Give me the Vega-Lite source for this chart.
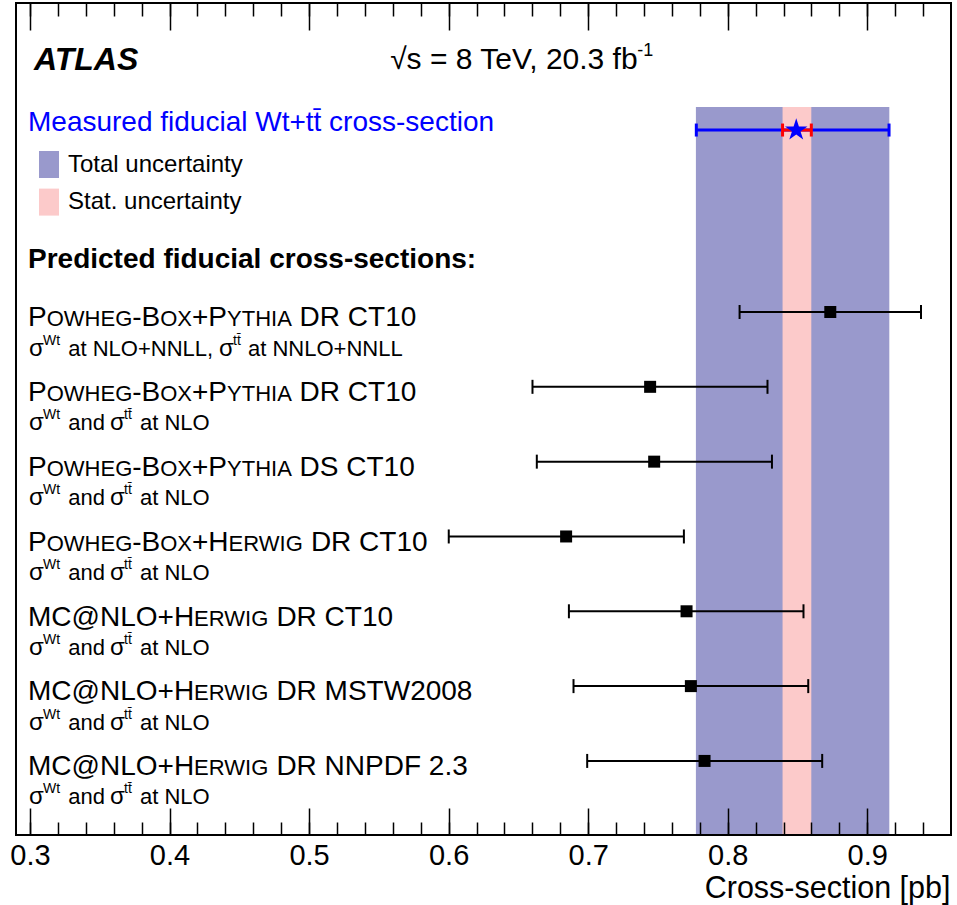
{
  "$schema": "https://vega.github.io/schema/vega-lite/v6.json",
  "width": 935,
  "height": 832,
  "autosize": {"type": "none"},
  "padding": {"left": 16, "top": 3, "right": 6, "bottom": 70},
  "background": "white",
  "config": {
    "font": "Liberation Sans",
    "view": {"stroke": "#000", "strokeWidth": 2},
    "text": {"align": "left", "baseline": "alphabetic", "color": "#000"}
  },
  "datasets": {
    "bands": [
      {"band": "Total uncertainty", "lo": 0.7772, "hi": 0.9158, "top": 1.26, "bottom": 10.978},
      {"band": "Stat. uncertainty", "lo": 0.8393, "hi": 0.8599, "top": 1.26, "bottom": 10.978}
    ],
    "measured": [
      {"pos": 1.568, "val": 0.8491, "lo": 0.7775, "hi": 0.9156, "slo": 0.8393, "shi": 0.8599}
    ],
    "models": [
      {"pos": 4, "lo": 0.8085, "val": 0.8735, "hi": 0.9385, "gen": "pythia", "tail": "DR CT10", "sub": "nnll"},
      {"pos": 5, "lo": 0.6601, "val": 0.7444, "hi": 0.8285, "gen": "pythia", "tail": "DR CT10", "sub": "nlo"},
      {"pos": 6, "lo": 0.6632, "val": 0.7473, "hi": 0.8317, "gen": "pythia", "tail": "DS CT10", "sub": "nlo"},
      {"pos": 7, "lo": 0.6001, "val": 0.6842, "hi": 0.7686, "gen": "herwig", "tail": "DR CT10", "sub": "nlo"},
      {"pos": 8, "lo": 0.6862, "val": 0.7705, "hi": 0.8543, "gen": "mcnlo", "tail": "DR CT10", "sub": "nlo"},
      {"pos": 9, "lo": 0.6895, "val": 0.7736, "hi": 0.8577, "gen": "mcnlo", "tail": "DR MSTW2008", "sub": "nlo"},
      {"pos": 10, "lo": 0.6993, "val": 0.7834, "hi": 0.8677, "gen": "mcnlo", "tail": "DR NNPDF 2.3", "sub": "nlo"}
    ],
    "notes": [
      {"key": "atlas", "text": "ATLAS"},
      {"key": "energy", "text": "√s = 8 TeV, 20.3 fb"},
      {"key": "lumi", "text": "-1"},
      {"key": "measured", "text": "Measured fiducial Wt+tt̄ cross-section"},
      {"key": "predicted", "text": "Predicted fiducial cross-sections:"}
    ]
  },
  "resolve": {"axis": {"x": "independent"}},
  "layer": [
    {
      "data": {"name": "bands"},
      "mark": {"type": "rect"},
      "encoding": {
        "x": {
          "field": "lo", "type": "quantitative",
          "scale": {"domain": [0.29, 0.96], "nice": false, "zero": false},
          "axis": {
            "orient": "bottom", "values": [0.3, 0.4, 0.5, 0.6, 0.7, 0.8, 0.9], "format": ".1f",
            "ticks": false, "domain": false, "grid": false, "labelOverlap": false, "labelFlush": false,
            "labelFontSize": 29, "labelColor": "#000", "labelPadding": 29, "labelBaseline": "alphabetic",
            "title": "Cross-section [pb]", "titleFontSize": 30.5, "titleFontWeight": "normal", "titleColor": "#000",
            "titleX": 934, "titleY": 62, "titleAlign": "right", "titleBaseline": "alphabetic", "titleLimit": 0
          }
        },
        "x2": {"field": "hi"},
        "y": {
          "field": "top", "type": "quantitative",
          "scale": {"domain": [-0.13, 10.99], "nice": false, "zero": false, "reverse": true},
          "axis": null
        },
        "y2": {"field": "bottom"},
        "color": {
          "field": "band", "type": "nominal",
          "scale": {"domain": ["Total uncertainty", "Stat. uncertainty"], "range": ["#9999cc", "#fccaca"]},
          "legend": {
            "orient": "none", "legendX": 19.5, "legendY": 148, "title": null, "padding": 0,
            "symbolType": "M-0.74,-1H0.74V1H-0.74Z", "symbolSize": 729, "symbolStrokeWidth": 0, "symbolOpacity": 1,
            "labelFont": "Liberation Sans", "labelFontSize": 24, "labelColor": "#000", "labelOffset": 5.5,
            "labelLimit": 0, "rowPadding": 10.6
          }
        }
      }
    },
    {
      "data": {"name": "models"},
      "mark": {"type": "rule", "color": "#000", "strokeWidth": 2},
      "encoding": {
        "x": {
          "field": "lo", "type": "quantitative",
          "axis": {"orient": "bottom", "values": [0.3, 0.4, 0.5, 0.6, 0.7, 0.8, 0.9], "labels": false, "domain": false, "grid": false, "title": null, "tickSize": -27, "tickColor": "#000", "tickWidth": 1.5, "zindex": 1}
        },
        "x2": {"field": "hi"},
        "y": {"field": "pos", "type": "quantitative", "axis": null}
      }
    },
    {
      "data": {"name": "models"},
      "mark": {"type": "tick", "orient": "vertical", "color": "#000", "size": 14, "thickness": 2, "opacity": 1},
      "encoding": {
        "x": {
          "field": "lo", "type": "quantitative",
          "axis": {"orient": "bottom", "values": [0.3, 0.32, 0.34, 0.36, 0.38, 0.4, 0.42, 0.44, 0.46, 0.48, 0.5, 0.52, 0.54, 0.56, 0.58, 0.6, 0.62, 0.64, 0.66, 0.68, 0.7, 0.72, 0.74, 0.76, 0.78, 0.8, 0.82, 0.84, 0.86, 0.88, 0.9, 0.92, 0.94], "labels": false, "domain": false, "grid": false, "title": null, "tickSize": -13, "tickColor": "#000", "tickWidth": 1.5, "zindex": 1}
        },
        "y": {"field": "pos", "type": "quantitative", "axis": null}
      }
    },
    {
      "data": {"name": "models"},
      "mark": {"type": "tick", "orient": "vertical", "color": "#000", "size": 14, "thickness": 2, "opacity": 1},
      "encoding": {
        "x": {
          "field": "hi", "type": "quantitative",
          "axis": {"orient": "top", "values": [0.3, 0.4, 0.5, 0.6, 0.7, 0.8, 0.9], "labels": false, "domain": false, "grid": false, "title": null, "tickSize": -27, "tickColor": "#000", "tickWidth": 1.5, "zindex": 1}
        },
        "y": {"field": "pos", "type": "quantitative", "axis": null}
      }
    },
    {
      "data": {"name": "models"},
      "mark": {"type": "point", "shape": "square", "filled": true, "size": 144, "color": "#000", "opacity": 1},
      "encoding": {
        "x": {
          "field": "val", "type": "quantitative",
          "axis": {"orient": "top", "values": [0.3, 0.32, 0.34, 0.36, 0.38, 0.4, 0.42, 0.44, 0.46, 0.48, 0.5, 0.52, 0.54, 0.56, 0.58, 0.6, 0.62, 0.64, 0.66, 0.68, 0.7, 0.72, 0.74, 0.76, 0.78, 0.8, 0.82, 0.84, 0.86, 0.88, 0.9, 0.92, 0.94], "labels": false, "domain": false, "grid": false, "title": null, "tickSize": -13, "tickColor": "#000", "tickWidth": 1.5, "zindex": 1}
        },
        "y": {"field": "pos", "type": "quantitative", "axis": null}
      }
    },
    {
      "data": {"name": "measured"},
      "encoding": {"y": {"field": "pos", "type": "quantitative", "axis": null}},
      "layer": [
        {
          "mark": {"type": "rule", "color": "#0000ff", "strokeWidth": 3},
          "encoding": {"x": {"field": "lo", "type": "quantitative", "axis": null}, "x2": {"field": "hi"}}
        },
        {
          "mark": {"type": "tick", "orient": "vertical", "color": "#0000ff", "size": 13, "thickness": 3, "opacity": 1},
          "encoding": {"x": {"field": "lo", "type": "quantitative", "axis": null}}
        },
        {
          "mark": {"type": "tick", "orient": "vertical", "color": "#0000ff", "size": 13, "thickness": 3, "opacity": 1},
          "encoding": {"x": {"field": "hi", "type": "quantitative", "axis": null}}
        },
        {
          "mark": {"type": "rule", "color": "#ff0000", "strokeWidth": 3},
          "encoding": {"x": {"field": "slo", "type": "quantitative", "axis": null}, "x2": {"field": "shi"}}
        },
        {
          "mark": {"type": "tick", "orient": "vertical", "color": "#ff0000", "size": 13, "thickness": 3, "opacity": 1},
          "encoding": {"x": {"field": "slo", "type": "quantitative", "axis": null}}
        },
        {
          "mark": {"type": "tick", "orient": "vertical", "color": "#ff0000", "size": 13, "thickness": 3, "opacity": 1},
          "encoding": {"x": {"field": "shi", "type": "quantitative", "axis": null}}
        },
        {
          "mark": {"type": "point", "filled": true, "color": "#0000ff", "opacity": 1, "size": 560, "strokeWidth": 0,
            "shape": "M0,-1L0.225,-0.309L0.951,-0.309L0.363,0.118L0.588,0.809L0,0.382L-0.588,0.809L-0.363,0.118L-0.951,-0.309L-0.225,-0.309Z"},
          "encoding": {"x": {"field": "val", "type": "quantitative", "axis": null}}
        }
      ]
    },
    {
      "data": {"name": "notes"},
      "layer": [
        {
          "transform": [{"filter": "datum.key === 'atlas'"}],
          "mark": {"type": "text", "fontSize": 32, "fontWeight": "bold", "fontStyle": "italic"},
          "encoding": {
            "x": {"datum": 0.3029, "type": "quantitative", "axis": null},
            "y": {"datum": 0.766, "type": "quantitative", "axis": null},
            "text": {"field": "text"}
          }
        },
        {
          "transform": [{"filter": "datum.key === 'energy'"}],
          "mark": {"type": "text", "fontSize": 30},
          "encoding": {
            "x": {"datum": 0.5581, "type": "quantitative", "axis": null},
            "y": {"datum": 0.752, "type": "quantitative", "axis": null},
            "text": {"field": "text"}
          }
        },
        {
          "transform": [{"filter": "datum.key === 'lumi'"}],
          "mark": {"type": "text", "fontSize": 18},
          "encoding": {
            "x": {"datum": 0.7352, "type": "quantitative", "axis": null},
            "y": {"datum": 0.578, "type": "quantitative", "axis": null},
            "text": {"field": "text"}
          }
        },
        {
          "transform": [{"filter": "datum.key === 'measured'"}],
          "mark": {"type": "text", "fontSize": 28, "color": "#0000ff"},
          "encoding": {
            "x": {"datum": 0.2986, "type": "quantitative", "axis": null},
            "y": {"datum": 1.575, "type": "quantitative", "axis": null},
            "text": {"field": "text"}
          }
        },
        {
          "transform": [{"filter": "datum.key === 'predicted'"}],
          "mark": {"type": "text", "fontSize": 28, "fontWeight": "bold"},
          "encoding": {
            "x": {"datum": 0.2986, "type": "quantitative", "axis": null},
            "y": {"datum": 3.413, "type": "quantitative", "axis": null},
            "text": {"field": "text"}
          }
        }
      ]
    },
    {
      "data": {"name": "models"},
      "encoding": {
        "x": {"datum": 0.2986, "type": "quantitative", "axis": null},
        "y": {"field": "pos", "type": "quantitative", "axis": null}
      },
      "layer": [
        {"transform": [{"filter": "datum.gen !== 'mcnlo'"}], "mark": {"type": "text", "text": "P", "fontSize": 28, "dy": 14.3}},
        {"transform": [{"filter": "datum.gen !== 'mcnlo'"}], "mark": {"type": "text", "text": "OWHEG", "fontSize": 22, "dx": 18.7, "dy": 14.3}},
        {"transform": [{"filter": "datum.gen !== 'mcnlo'"}], "mark": {"type": "text", "text": "-B", "fontSize": 28, "dx": 104.2, "dy": 14.3}},
        {"transform": [{"filter": "datum.gen !== 'mcnlo'"}], "mark": {"type": "text", "text": "OX", "fontSize": 22, "dx": 132.2, "dy": 14.3}},
        {"transform": [{"filter": "datum.gen === 'pythia'"}], "mark": {"type": "text", "text": "+P", "fontSize": 28, "dx": 164, "dy": 14.3}},
        {"transform": [{"filter": "datum.gen === 'pythia'"}], "mark": {"type": "text", "text": "YTHIA", "fontSize": 22, "dx": 199.1, "dy": 14.3}},
        {"transform": [{"filter": "datum.gen === 'pythia'"}], "mark": {"type": "text", "fontSize": 28, "dx": 271.6, "dy": 14.3}, "encoding": {"text": {"field": "tail"}}},
        {"transform": [{"filter": "datum.gen === 'herwig'"}], "mark": {"type": "text", "text": "+H", "fontSize": 28, "dx": 164, "dy": 14.3}},
        {"transform": [{"filter": "datum.gen === 'herwig'"}], "mark": {"type": "text", "text": "ERWIG", "fontSize": 22, "dx": 200.6, "dy": 14.3}},
        {"transform": [{"filter": "datum.gen === 'herwig'"}], "mark": {"type": "text", "fontSize": 28, "dx": 282.9, "dy": 14.3}, "encoding": {"text": {"field": "tail"}}},
        {"transform": [{"filter": "datum.gen === 'mcnlo'"}], "mark": {"type": "text", "text": "MC@NLO+H", "fontSize": 28, "dy": 14.3}},
        {"transform": [{"filter": "datum.gen === 'mcnlo'"}], "mark": {"type": "text", "text": "ERWIG", "fontSize": 22, "dx": 166.1, "dy": 14.3}},
        {"transform": [{"filter": "datum.gen === 'mcnlo'"}], "mark": {"type": "text", "fontSize": 28, "dx": 248.4, "dy": 14.3}, "encoding": {"text": {"field": "tail"}}},
        {"mark": {"type": "text", "text": "σ", "fontSize": 24, "dx": 1, "dy": 43.5}},
        {"mark": {"type": "text", "text": "Wt", "fontSize": 14, "dx": 15, "dy": 32.5}},
        {"transform": [{"filter": "datum.sub === 'nlo'"}], "mark": {"type": "text", "text": "and", "fontSize": 22, "dx": 40.2, "dy": 43.5}},
        {"transform": [{"filter": "datum.sub === 'nlo'"}], "mark": {"type": "text", "text": "σ", "fontSize": 24, "dx": 82, "dy": 43.5}},
        {"transform": [{"filter": "datum.sub === 'nlo'"}], "mark": {"type": "text", "text": "tt\u0304", "fontSize": 14, "dx": 96, "dy": 32.5}},
        {"transform": [{"filter": "datum.sub === 'nlo'"}], "mark": {"type": "text", "text": "at NLO", "fontSize": 22, "dx": 112, "dy": 43.5}},
        {"transform": [{"filter": "datum.sub === 'nnll'"}], "mark": {"type": "text", "text": "at NLO+NNLL,", "fontSize": 22, "dx": 40.2, "dy": 43.5}},
        {"transform": [{"filter": "datum.sub === 'nnll'"}], "mark": {"type": "text", "text": "σ", "fontSize": 24, "dx": 191, "dy": 43.5}},
        {"transform": [{"filter": "datum.sub === 'nnll'"}], "mark": {"type": "text", "text": "tt\u0304", "fontSize": 14, "dx": 205, "dy": 32.5}},
        {"transform": [{"filter": "datum.sub === 'nnll'"}], "mark": {"type": "text", "text": "at NNLO+NNLL", "fontSize": 22, "dx": 220, "dy": 43.5}}
      ]
    }
  ]
}
